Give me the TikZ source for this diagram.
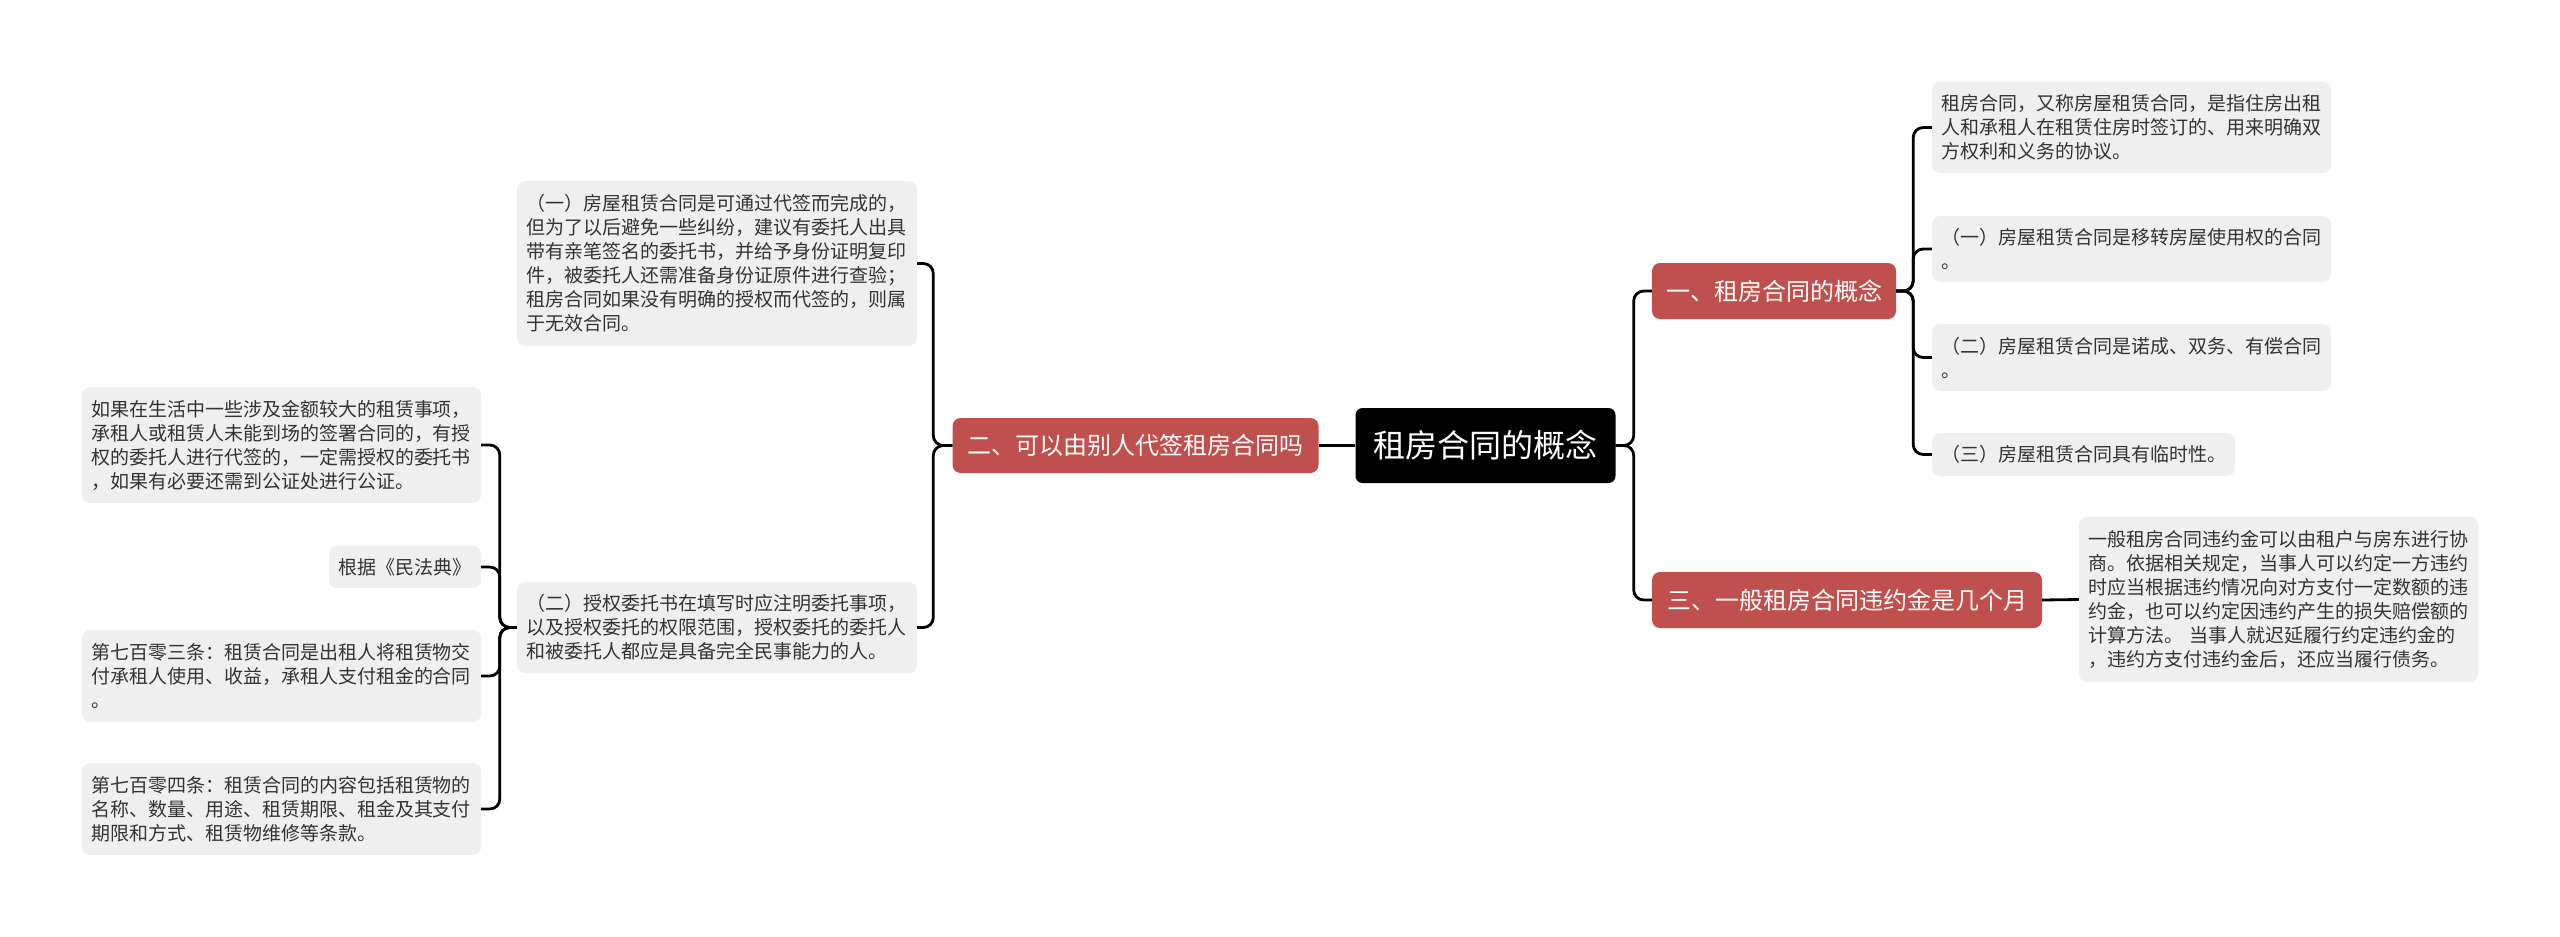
\documentclass[tikz,border=0pt]{standalone}
\usepackage{fontspec}
\setmainfont{Noto Sans CJK SC}
\definecolor{leafgray}{HTML}{EFEFEF}
\definecolor{leaftext}{HTML}{333333}
\definecolor{branchred}{HTML}{C0504D}
\tikzset{
  leaf/.style={fill=leafgray, rounded corners=8pt, text=leaftext, align=left,
    inner xsep=9pt, inner ysep=0pt, font=\fontsize{19}{24}\selectfont},
  branch/.style={fill=branchred, rounded corners=8pt, text=white, inner sep=0pt,
    font=\fontsize{24}{24}\selectfont},
  rootbox/.style={fill=black, rounded corners=7pt, text=white, inner sep=0pt,
    font=\fontsize{32}{32}\selectfont},
  conn/.style={line width=2.8pt, rounded corners=10pt, draw=black},
}
\begin{document}
\begin{tikzpicture}[x=1pt,y=-1pt]
\useasboundingbox (0,0) rectangle (2560,937);

% root
\node[rootbox, minimum width=260pt, minimum height=75pt] (root) at (1485.5,445.5)
  {租房合同的概念};

% branches
\node[branch, minimum width=366pt, minimum height=55pt] (b2) at (1135.5,445.5)
  {二、可以由别人代签租房合同吗};
\node[branch, minimum width=244pt, minimum height=56pt] (b1) at (1774,291)
  {一、租房合同的概念};
\node[branch, minimum width=390pt, minimum height=56pt] (b3) at (1847,600)
  {三、一般租房合同违约金是几个月};

% right leaves of b1
\node[leaf, text width=381pt, minimum height=91pt] (r1) at (2131.5,127.5)
  {租房合同，又称房屋租赁合同，是指住房出租\\人和承租人在租赁住房时签订的、用来明确双\\方权利和义务的协议。};
\node[leaf, text width=381pt, minimum height=66pt] (r2) at (2131.5,249)
  {（一）房屋租赁合同是移转房屋使用权的合同\\。};
\node[leaf, text width=381pt, minimum height=67pt] (r3) at (2131.5,357.5)
  {（二）房屋租赁合同是诺成、双务、有偿合同\\。};
\node[leaf, text width=285pt, minimum height=43pt] (r4) at (2083.5,454.5)
  {（三）房屋租赁合同具有临时性。};

% leaf of b3
\node[leaf, text width=381pt, minimum height=165pt] (r5) at (2278.5,599.5)
  {一般租房合同违约金可以由租户与房东进行协\\商。依据相关规定，当事人可以约定一方违约\\时应当根据违约情况向对方支付一定数额的违\\约金，也可以约定因违约产生的损失赔偿额的\\计算方法。 当事人就迟延履行约定违约金的\\，违约方支付违约金后，还应当履行债务。};

% left leaves of b2
\node[leaf, text width=382pt, minimum height=165pt] (l1) at (717,263.5)
  {（一）房屋租赁合同是可通过代签而完成的，\\但为了以后避免一些纠纷，建议有委托人出具\\带有亲笔签名的委托书，并给予身份证明复印\\件，被委托人还需准备身份证原件进行查验；\\租房合同如果没有明确的授权而代签的，则属\\于无效合同。};
\node[leaf, text width=382pt, minimum height=91pt] (l2) at (717,627.5)
  {（二）授权委托书在填写时应注明委托事项，\\以及授权委托的权限范围，授权委托的委托人\\和被委托人都应是具备完全民事能力的人。};

% far-left leaves of l2
\node[leaf, text width=381pt, minimum height=116pt] (f1) at (281.5,445)
  {如果在生活中一些涉及金额较大的租赁事项，\\承租人或租赁人未能到场的签署合同的，有授\\权的委托人进行代签的，一定需授权的委托书\\，如果有必要还需到公证处进行公证。};
\node[leaf, text width=134pt, minimum height=42pt] (f2) at (405,567)
  {根据《民法典》};
\node[leaf, text width=381pt, minimum height=92pt] (f3) at (281.5,676)
  {第七百零三条：租赁合同是出租人将租赁物交\\付承租人使用、收益，承租人支付租金的合同\\。};
\node[leaf, text width=381pt, minimum height=92pt] (f4) at (281.5,809)
  {第七百零四条：租赁合同的内容包括租赁物的\\名称、数量、用途、租赁期限、租金及其支付\\期限和方式、租赁物维修等条款。};

% connectors
\draw[conn] (root.west) -- (b2.east);
\draw[conn] (root.east) -- ++(18,0) |- (b1.west);
\draw[conn] (root.east) -- ++(18,0) |- (b3.west);

\foreach \c in {r1,r2,r3,r4}
  \draw[conn] (b1.east) -- ++(17,0) |- (\c.west);
\draw[conn] (b3.east) -- (r5.west);

\foreach \c in {l1,l2}
  \draw[conn] (b2.west) -- ++(-19,0) |- (\c.east);

\foreach \c in {f1,f2,f3,f4}
  \draw[conn] (l2.west) -- ++(-17,0) |- (\c.east);
\end{tikzpicture}
\end{document}
